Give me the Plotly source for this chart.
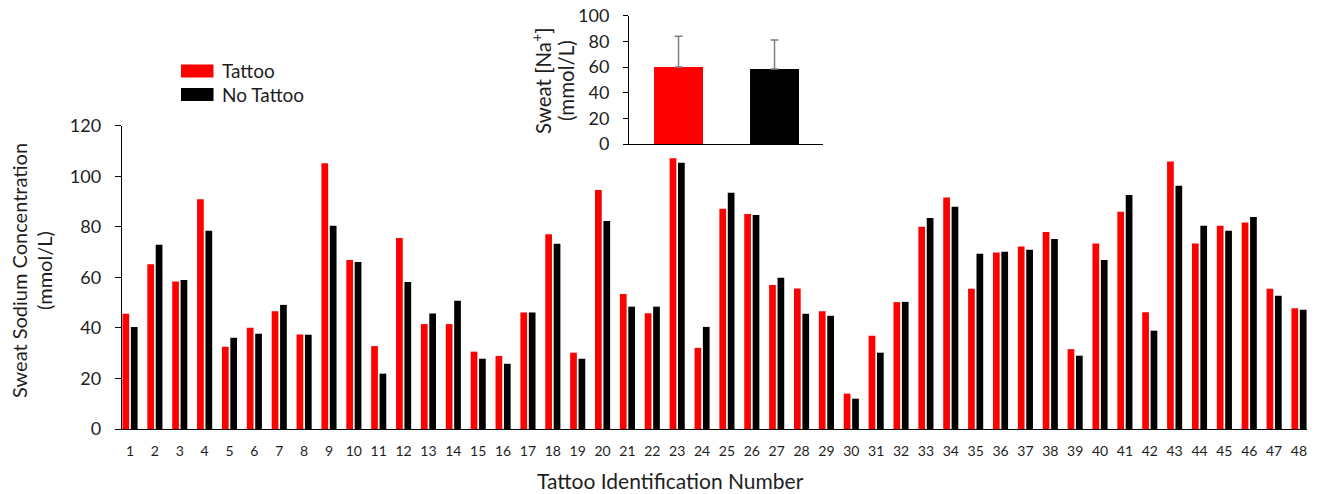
import plotly.graph_objects as go

categories = [str(i) for i in range(1, 49)]
tattoo = [45.6, 65.2, 58.4, 90.9, 32.5, 40.1, 46.6, 37.4, 105.1, 66.9,
          32.8, 75.6, 41.5, 41.5, 30.6, 28.9, 46.1, 77.1, 30.2, 94.6,
          53.4, 45.8, 107.1, 32.1, 87.1, 85.1, 57.0, 55.6, 46.6, 14.0,
          36.9, 50.2, 80.0, 91.6, 55.5, 69.8, 72.2, 77.9, 31.6, 73.4,
          86.0, 46.2, 105.8, 73.4, 80.4, 81.7, 55.5, 47.8]
no_tattoo = [40.4, 72.9, 59.0, 78.4, 36.1, 37.7, 49.1, 37.3, 80.4, 66.1,
             21.9, 58.2, 45.7, 50.7, 27.8, 25.8, 46.1, 73.3, 27.8, 82.3,
             48.4, 48.4, 105.3, 40.4, 93.5, 84.7, 59.8, 45.6, 44.8, 12.0,
             30.2, 50.3, 83.5, 87.9, 69.3, 70.1, 70.9, 75.2, 29.0, 66.9,
             92.6, 38.9, 96.2, 80.4, 78.4, 83.9, 52.7, 47.2]

inset_groups = ["Tattoo", "No Tattoo"]
inset_means = [60.0, 58.4]
inset_sd = [23.9, 22.6]

main_ticks = [0, 20, 40, 60, 80, 100, 120]
inset_ticks = [0, 20, 40, 60, 80, 100]

RED = "#FF0000"
BLACK = "#000000"
TXT = "#1e1e1e"
FONT = "Lato"
W, H = 1319, 494

fig = go.Figure()
fig.add_trace(go.Bar(x=categories, y=tattoo, name="Tattoo", marker_color=RED,
                     marker_line_width=0, xaxis="x", yaxis="y", showlegend=False))
fig.add_trace(go.Bar(x=categories, y=no_tattoo, name="No Tattoo", marker_color=BLACK,
                     marker_line_width=0, xaxis="x", yaxis="y", showlegend=False))
fig.add_trace(go.Bar(x=inset_groups, y=inset_means, marker_color=[RED, BLACK],
                     marker_line_width=0, width=0.51, xaxis="x2", yaxis="y2",
                     showlegend=False,
                     error_y=dict(type="data", symmetric=False, array=inset_sd,
                                  arrayminus=[0, 0], color="#808080",
                                  thickness=1.5, width=4)))

def px_x(p):
    return p / W

def px_y(p):
    return (H - p) / H

fig.update_layout(
    width=W, height=H,
    margin=dict(l=0, r=0, t=0, b=0, pad=0, autoexpand=False),
    paper_bgcolor="white", plot_bgcolor="white",
    showlegend=False,
    font=dict(family=FONT, color=TXT, size=18),
    barmode="group", bargap=0.325, bargroupgap=0.2,
    xaxis=dict(domain=[px_x(121.7), px_x(1307.3)], range=[-0.334, 47.334],
               type="category", showline=True, linecolor=BLACK, linewidth=1,
               ticks="outside", ticklen=9, tickcolor="rgba(0,0,0,0)",
               tickfont=dict(size=14, family=FONT, color=TXT), automargin=False,
               showgrid=False, zeroline=False, fixedrange=True),
    yaxis=dict(domain=[px_y(429), px_y(125.7)], range=[0, 120],
               tickvals=main_ticks, showline=True, linecolor=BLACK, linewidth=1,
               ticks="outside", ticklen=6, tickcolor=BLACK, automargin=False,
               ticklabelstandoff=10,
               tickfont=dict(size=18, family=FONT, color=TXT),
               showgrid=False, zeroline=False),
    xaxis2=dict(domain=[px_x(629), px_x(823)], range=[-0.516, 1.505],
                type="category", anchor="y2", showline=True, linecolor=BLACK,
                linewidth=1, ticks="", showticklabels=False, showgrid=False,
                zeroline=False, automargin=False),
    yaxis2=dict(domain=[px_y(144), px_y(15.7)], range=[0, 100], anchor="x2",
                tickvals=inset_ticks, showline=True, linecolor=BLACK, linewidth=1,
                ticks="outside", ticklen=5, tickcolor=BLACK, automargin=False,
                ticklabelstandoff=10,
                tickfont=dict(size=18, family=FONT, color=TXT),
                showgrid=False, zeroline=False),
)

def note(text, x, y, size, angle=0, xanchor="center"):
    fig.add_annotation(text=text, x=px_x(x), y=px_y(y), xref="paper", yref="paper",
                       textangle=angle, showarrow=False, xanchor=xanchor, yanchor="middle",
                       font=dict(size=size, family=FONT, color=TXT))

# axis titles
note("Sweat Sodium Concentration", 19, 271, 20, -90)
note("(mmol/L)", 44, 271, 20, -90)
note("Tattoo Identification Number", 670, 480, 21)
note("Sweat [Na<sup>+</sup>]", 541, 81, 20.5, -90)
note("(mmol/L)", 566, 81, 20.5, -90)

# legend
legend_items = [("Tattoo", RED, 71), ("No Tattoo", BLACK, 94.5)]
for label, col, yc in legend_items:
    fig.add_shape(type="rect", xref="paper", yref="paper",
                  x0=px_x(181), x1=px_x(213.5), y0=px_y(yc + 6.5), y1=px_y(yc - 6.5),
                  fillcolor=col, line_width=0)
    note(label, 220, yc, 19, 0, "left")

fig.write_html("out.html", config={"displayModeBar": False},
               post_script="document.body.style.margin='0';")
